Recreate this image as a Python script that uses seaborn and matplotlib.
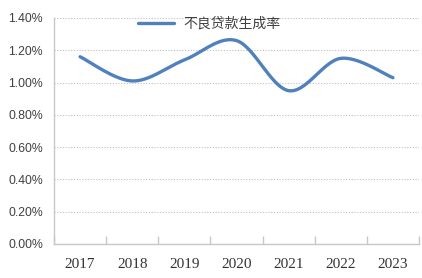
import numpy as np
import pandas as pd
import matplotlib
matplotlib.use("Agg")
import matplotlib.pyplot as plt
import seaborn as sns
from matplotlib.ticker import FixedLocator, FuncFormatter

years = ["2017", "2018", "2019", "2020", "2021", "2022", "2023"]
rate = [1.16, 1.01, 1.14, 1.26, 0.95, 1.15, 1.03]
series_name = "不良贷款生成率"
y_ticks = [0.0, 0.2, 0.4, 0.6, 0.8, 1.0, 1.2, 1.4]

sns.set_theme(style="white")
plt.rcParams['font.family'] = ['DejaVu Sans', 'Noto Sans CJK SC']


def smooth(xs, ys, n=30):
    # Catmull-Rom style smoothing (as in Excel smoothed line)
    xs = np.asarray(xs, float); ys = np.asarray(ys, float)
    px = np.concatenate([[xs[0]], xs, [xs[-1]]])
    py = np.concatenate([[ys[0]], ys, [ys[-1]]])
    ox, oy = [], []
    for i in range(1, len(px) - 2):
        p0 = np.array([px[i - 1], py[i - 1]]); p1 = np.array([px[i], py[i]])
        p2 = np.array([px[i + 1], py[i + 1]]); p3 = np.array([px[i + 2], py[i + 2]])
        c1 = p1 + (p2 - p0) / 6.0
        c2 = p2 - (p3 - p1) / 6.0
        t = np.linspace(0, 1, n, endpoint=(i == len(px) - 3))[:, None]
        b = ((1 - t) ** 3) * p1 + 3 * ((1 - t) ** 2) * t * c1 + 3 * (1 - t) * t ** 2 * c2 + t ** 3 * p2
        ox.extend(b[:, 0]); oy.extend(b[:, 1])
    return np.array(ox), np.array(oy)


xpos = np.arange(len(years))
sx, sy = smooth(xpos, rate)
df = pd.DataFrame({"x": sx, "y": sy, "s": series_name})

fig = plt.figure(figsize=(4.22, 2.78), dpi=100)
ax = fig.add_axes([54 / 422, 1 - 244 / 278, 365 / 422, 226 / 278])

sns.lineplot(data=df, x="x", y="y", hue="s", palette=["#4F81BD"], linewidth=2.4,
             ax=ax, sort=False, estimator=None)

ax.set_xlim(-0.5, len(years) - 0.5)
ax.set_ylim(0, 1.4)
ax.set_xlabel(""); ax.set_ylabel("")

ax.yaxis.set_major_locator(FixedLocator(y_ticks))
ax.yaxis.set_major_formatter(FuncFormatter(lambda v, p: f"{v:.2f}%"))
ax.grid(axis="y", color="#BFBFBF", linestyle=(0, (1, 1.5)), linewidth=0.8)
ax.set_axisbelow(True)

ax.set_xticks(xpos)
ax.set_xticklabels(years, fontfamily=["Liberation Serif"], fontsize=11, color="#333333")
ax.set_xticks(np.arange(-0.5, len(years)), minor=True)
ax.tick_params(axis="x", which="major", length=0, pad=10)
ax.tick_params(axis="x", which="minor", direction="in", length=6, color="#C8C8C8", width=1, bottom=True)
ax.tick_params(axis="y", length=0, pad=8)
for lbl in ax.get_yticklabels():
    lbl.set_fontfamily(["Liberation Sans"])
    lbl.set_fontsize(8.8)
    lbl.set_color("#404040")

for s in ["top", "right"]:
    ax.spines[s].set_visible(False)
for s in ["left", "bottom"]:
    ax.spines[s].set_color("#C8C8C8")
    ax.spines[s].set_linewidth(1)

leg = ax.legend(loc="upper center", bbox_to_anchor=(0.425, 1.06), frameon=False,
                handlelength=2.6, handletextpad=0.7,
                prop={"family": ["Noto Sans CJK SC"], "size": 10})
for t in leg.get_texts():
    t.set_color("#404040")

fig.savefig("out.png", dpi=100)
